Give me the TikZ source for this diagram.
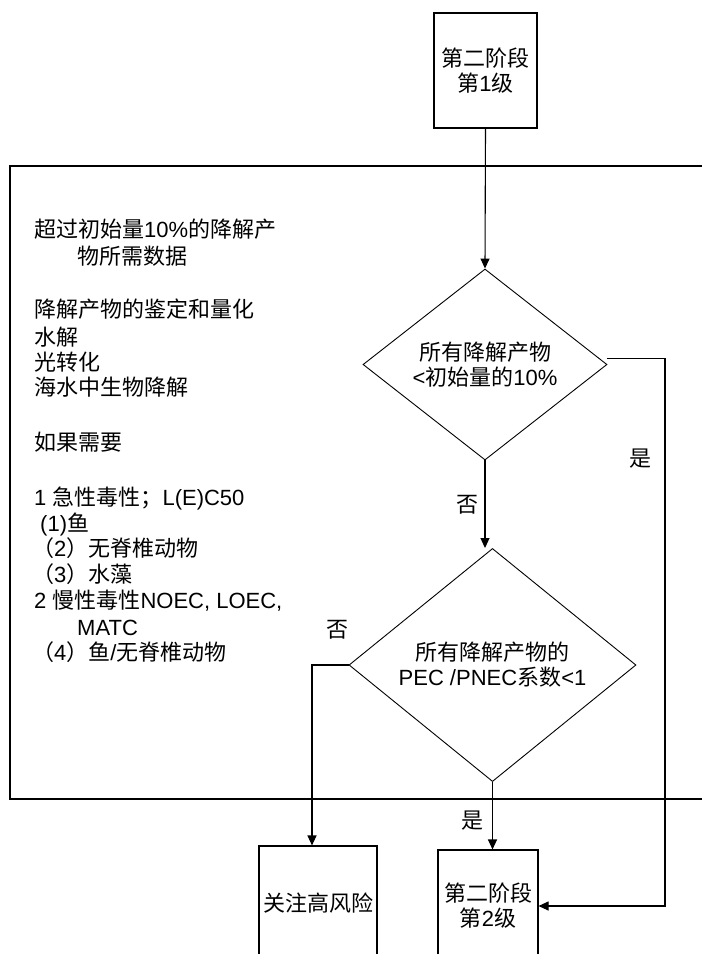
\documentclass[tikz,border=0pt]{standalone}
\usepackage{fontspec}
\setmainfont{Noto Sans CJK SC}
\newfontfamily\latf{Liberation Sans}
\newcommand\A[1]{{\latf #1}}
\usetikzlibrary{arrows.meta,shapes.geometric}
\tikzset{
  ln/.style={line width=1.1pt, draw=black},
  arr/.style={ln, -{Triangle[length=10pt,width=9pt]}},
  boxnode/.style={ln, rectangle, inner sep=0pt, align=center,
    font=\fontsize{22}{25}\selectfont},
  dia/.style={ln, line width=0.9pt, diamond, inner sep=0pt, align=center,
    font=\fontsize{22}{25}\selectfont},
  txt/.style={inner sep=0pt, anchor=base west, font=\fontsize{22}{26}\selectfont},
  lbl/.style={inner sep=0pt, font=\fontsize{22}{26}\selectfont},
}
\begin{document}
\begin{tikzpicture}[x=1pt,y=-1pt]
\useasboundingbox (0,0) rectangle (702,954);
\clip (0,0) rectangle (702,954);

% frame (open to the right)
\node[ln, rectangle, inner sep=0pt, minimum width=710pt, minimum height=633pt] (frame) at (365,482.5) {};

% boxes
\node[boxnode, minimum width=103pt, minimum height=115pt] (s1) at (485.5,70.5) {第二阶段\\第\A{1}级};
\node[dia, minimum width=244pt, minimum height=191pt] (d1) at (485,364.5) {所有降解产物\\\A{<}初始量的\A{10\%}};
\node[dia, minimum width=287pt, minimum height=204pt] (d2) at (492.5,665) {所有降解产物的\\\A{PEC /PNEC}系数\A{<1}};
\node[boxnode, minimum width=100pt, minimum height=112pt] (s2) at (488,906) {第二阶段\\第\A{2}级};
\node[boxnode, minimum width=118pt, minimum height=114pt] (risk) at (318,903) {关注高风险};

% connectors
\coordinate (rc) at (665,600);
\draw[arr] (s1.south) -- (d1.north);
\draw[arr] (d1.south) -- (d1.south |- d2.north);
\draw[arr] (d2.south) -- (d2.south |- s2.north);
\draw[arr] (d2.west) -| ([xshift=-6pt]risk.north);
\draw[arr] ([yshift=6pt]d1.east) -| (rc) |- (s2.east);

% labels
\node[lbl] (yes1) at (640,459) {是};
\node[lbl] (no1) at (467,505) {否};
\node[lbl] (no2) at (337,630) {否};
\node[lbl] (yes2) at (472,821) {是};

% left text
\node[txt] (t1) at (34,237.5) {超过初始量\A{10\%}的降解产};
\node[txt] (t2) at (77,264.5) {物所需数据};
\node[txt] (t3) at (34,317.5) {降解产物的鉴定和量化};
\node[txt] (t4) at (34,345.5) {水解};
\node[txt] (t5) at (34,370.5) {光转化};
\node[txt] (t6) at (34,395.5) {海水中生物降解};
\node[txt] (t7) at (34,450.5) {如果需要};
\node[txt] (t8) at (34,505.5) {\A{1 }急性毒性；\A{L(E)C50}};
\node[txt] (t9) at (40,531.5) {\A{(1)}鱼};
\node[txt] (t10) at (32,556.5) {（\A{2}）无脊椎动物};
\node[txt] (t11) at (32,582.5) {（\A{3}）水藻};
\node[txt] (t12) at (34,608.5) {\A{2 }慢性毒性\A{NOEC, LOEC,}};
\node[txt] (t13) at (77,635.5) {\A{MATC}};
\node[txt] (t14) at (32,660.5) {（\A{4}）鱼\A{/}无脊椎动物};
\end{tikzpicture}
\end{document}
